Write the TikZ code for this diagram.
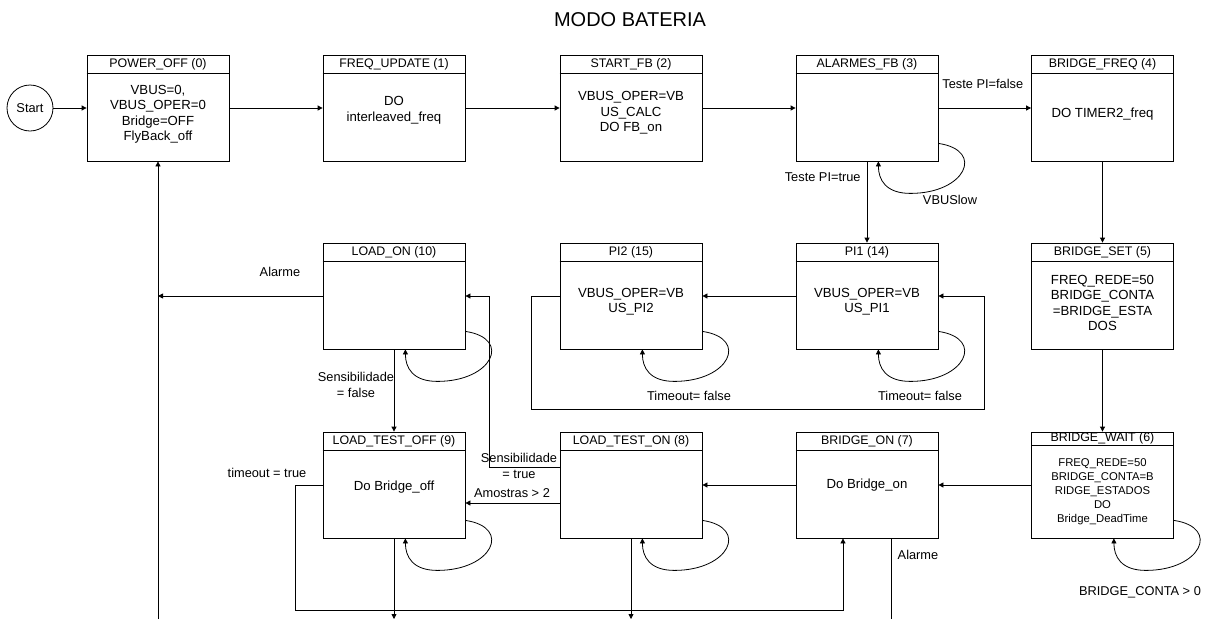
\documentclass[tikz,border=0pt]{standalone}
\usepackage{fontspec}
\setmainfont{Liberation Sans}
\usetikzlibrary{arrows.meta}

\tikzset{
  caixa/.style={draw, minimum width=142pt, minimum height=106pt, inner sep=0pt},
  titulo/.style={font=\fontsize{12.4}{14}\selectfont, inner sep=0pt},
  corpo/.style={font=\fontsize{13.2}{15.5}\selectfont, align=center, inner sep=0pt},
  rotulo/.style={font=\fontsize{12.8}{16}\selectfont, align=center, inner sep=0pt},
  seta/.style={-{Triangle[length=5pt,width=5pt]}},
}

% [altura do titulo]{nome}{x}{topo}{titulo}{y do texto}{texto}
\newcommand{\estado}[7][18.5]{%
  \node[caixa] (#2) at (#3,#4+53) {};
  \draw ([yshift=-#1pt]#2.north west) -- ([yshift=-#1pt]#2.north east);
  \node[titulo] at (#3,#4+#1/2) {#5};
  \node[corpo] at (#3,#6) {#7};
}

% transicao para o proprio estado
\newcommand{\laco}[1]{%
  \draw[seta] ([yshift=18pt]#1.south east) .. controls +(47,7) and +(55,0) .. ([xshift=-28pt,yshift=-32pt]#1.south east) .. controls +(-25,0) and +(0,18) .. ([xshift=-60pt]#1.south east);
}

\begin{document}
\begin{tikzpicture}[x=1pt, y=-1pt, line width=0.8pt]
\useasboundingbox (0,0) rectangle (1210,619);

\node[font=\fontsize{20}{24}\selectfont] (titulo) at (630,20) {MODO BATERIA};

% linha de cima
\node[draw, circle, minimum size=46pt, rotulo] (start) at (30,108) {Start};
\estado{poweroff}{158}{55}{POWER\_OFF (0)}{114.5}{VBUS=0,\\VBUS\_OPER=0\\Bridge=OFF\\FlyBack\_off}
\estado{frequpdate}{394}{55}{FREQ\_UPDATE (1)}{110.5}{DO\\interleaved\_freq}
\estado{startfb}{631}{55}{START\_FB (2)}{113}{VBUS\_OPER=VB\\US\_CALC\\DO FB\_on}
\estado{alarmes}{867}{55}{ALARMES\_FB (3)}{117}{}
\estado{bridgefreq}{1102.5}{55}{BRIDGE\_FREQ (4)}{114}{DO TIMER2\_freq}

% linha do meio
\estado{loadon}{394}{243}{LOAD\_ON (10)}{305}{}
\estado{pi2}{631}{243}{PI2 (15)}{301.5}{VBUS\_OPER=VB\\US\_PI2}
\estado{pi1}{867}{243}{PI1 (14)}{301.5}{VBUS\_OPER=VB\\US\_PI1}
\estado{bridgeset}{1102.5}{243}{BRIDGE\_SET (5)}{303}{FREQ\_REDE=50\\BRIDGE\_CONTA\\=BRIDGE\_ESTA\\DOS}

% linha de baixo
\estado{loadtestoff}{394}{432}{LOAD\_TEST\_OFF (9)}{487}{Do Bridge\_off}
\estado{loadteston}{631}{432}{LOAD\_TEST\_ON (8)}{490}{}
\estado{bridgeon}{867}{432}{BRIDGE\_ON (7)}{485}{Do Bridge\_on}
\estado[13.5]{bridgewait}{1102.5}{432}{BRIDGE\_WAIT (6)}{492}{}
\node[corpo, font=\fontsize{11.3}{14}\selectfont] (txtwait) at (1102.5,492) {FREQ\_REDE=50\\BRIDGE\_CONTA=B\\RIDGE\_ESTADOS\\DO\\Bridge\_DeadTime};

% pontos soltos
\coordinate (retorno) at (158,619);
\coordinate (voltapi) at (984,409);
\coordinate (voltaon) at (843,610);
\coordinate (saida9) at (394,619);
\coordinate (saida8) at (631,619);
\coordinate (saida7) at (891,619);

% transicoes de cima
\draw[seta] (start) -- (poweroff);
\draw[seta] (poweroff) -- (frequpdate);
\draw[seta] (frequpdate) -- (startfb);
\draw[seta] (startfb) -- (alarmes);
\draw[seta] (alarmes) -- (bridgefreq);
\node[rotulo, anchor=west] (lbfalse) at (942,84) {Teste PI=false};
\draw[seta] (alarmes) -- (pi1);
\node[rotulo, anchor=east] (lbtrue) at (861,177) {Teste PI=true};
\laco{alarmes}
\node[rotulo] (lbvbus) at (950,200) {VBUSlow};
\draw[seta] (bridgefreq) -- (bridgeset);
\draw[seta] (bridgeset) -- (bridgewait);

% PI
\draw[seta] (pi1) -- (pi2);
\draw[seta] (pi2.west) -- ++(-28,0) |- (voltapi) |- (pi1.east);
\laco{pi1}
\laco{pi2}
\node[rotulo] (lbpi2) at (689,396) {Timeout= false};
\node[rotulo] (lbpi1) at (920,396) {Timeout= false};

% ponte
\draw[seta] (bridgewait) -- (bridgeon);
\laco{bridgewait}
\node[rotulo] (lbconta) at (1140,592) {BRIDGE\_CONTA > 0};
\draw[seta] (bridgeon) -- (loadteston);
\draw ([xshift=24pt]bridgeon.south) -- (saida7);
\node[rotulo] (lbalarme7) at (918,555) {Alarme};

% carga
\draw[seta] (retorno) -- (poweroff);
\draw[seta] (loadon) -- (loadon -| retorno);
\node[rotulo] (lbalarme10) at (280,272) {Alarme};
\laco{loadon}
\draw[seta] (loadon) -- (loadtestoff);
\node[rotulo] (lbsensf) at (356,385) {Sensibilidade\\= false};
\draw[seta] ([yshift=18pt]loadteston.west) -- ++(-70,0) |- (loadon.east);
\node[rotulo] (lbsenst) at (519,466) {Sensibilidade\\= true};
\draw[seta] ([yshift=-18pt]loadteston.west) -- ([yshift=-18pt]loadtestoff.east);
\node[rotulo] (lbamostras) at (512,493) {Amostras > 2};
\laco{loadteston}
\laco{loadtestoff}
\draw[seta] (loadtestoff.west) -- ++(-27,0) |- (voltaon) -- (voltaon |- bridgeon.south);
\node[rotulo] (lbtimeout) at (267,473) {timeout = true};
\draw[seta] (loadtestoff) -- (saida9);
\draw[seta] (loadteston) -- (saida8);

\end{tikzpicture}
\end{document}
